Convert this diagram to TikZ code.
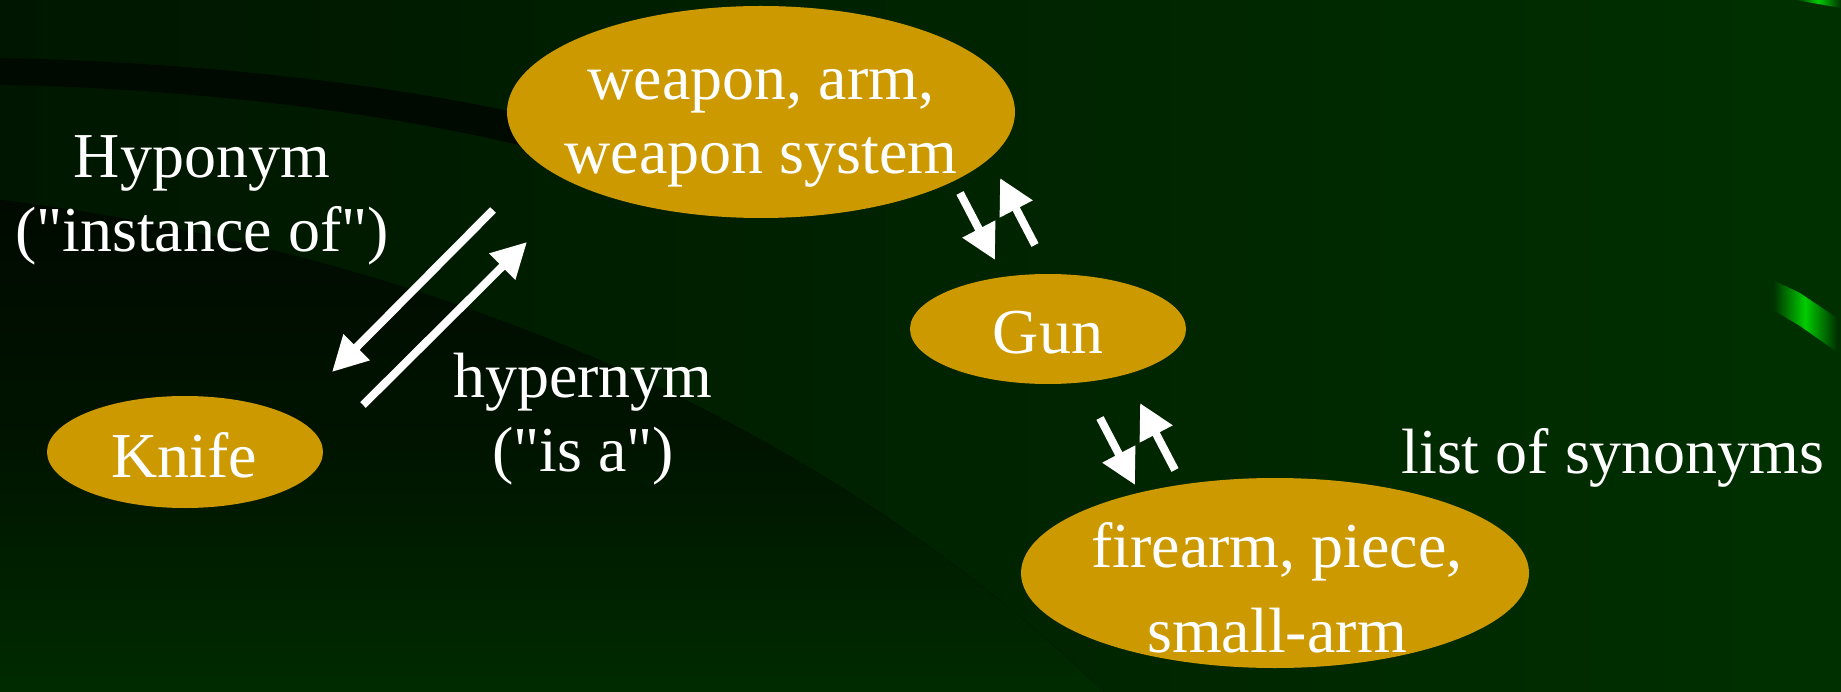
\documentclass[tikz,border=0pt]{standalone}
\usepackage{fontspec}
\setmainfont{Liberation Serif}
\usetikzlibrary{arrows.meta,shapes.geometric}
\definecolor{gold}{HTML}{CC9900}
\definecolor{bgL}{HTML}{001600}
\definecolor{bgR}{HTML}{003000}
\definecolor{bgDark}{HTML}{000A00}
\definecolor{stripe}{HTML}{00CC00}
\newcommand{\slidefont}{\fontsize{64}{74}\selectfont}
\newcommand{\qq}{\textquotedbl}
\begin{document}
\begin{tikzpicture}[x=1pt,y=-1pt,
  concept/.style={ellipse, fill=gold, draw=none, inner sep=0pt},
  lbl/.style={text=white, align=center, font=\slidefont, inner sep=0pt},
  rel/.style={draw=white, line width=8pt, -{Triangle[length=35pt,width=35pt]}}]
\useasboundingbox (0,0) rectangle (1841,692);
% background
\fill[left color=bgL, right color=bgR] (0,0) rectangle (1841,692);
\fill[top color=bgDark, bottom color=bgR!90!black, middle color=bgL!85!bgDark]
  (0,200) .. controls (400,250) and (800,400) .. (1104,692) -- (0,692) -- cycle;
\fill[bgDark] (0,58) .. controls (200,62) and (400,85) .. (540,118)
  -- (540,150) .. controls (400,115) and (200,88) .. (0,85) -- cycle;
% green stripes at right edge
\shade[left color=bgR, right color=bgR, middle color=stripe]
  (1773,280) -- (1800,293) -- (1837,318) -- (1837,352) -- (1800,326) -- (1773,310) -- cycle;
\shade[left color=bgR, right color=bgR, middle color=stripe]
  (1795,0) -- (1841,0) -- (1841,8) -- (1830,6) -- cycle;
% concepts
\node[concept, minimum width=508pt, minimum height=212pt] (weapon) at (761,112) {};
\node[concept, minimum width=276pt, minimum height=110pt] (gun) at (1048,329) {};
\node[concept, minimum width=276pt, minimum height=112pt] (knife) at (185,452) {};
\node[concept, minimum width=508pt, minimum height=190pt] (firearm) at (1275,573) {};
\node[lbl] (weapontxt) at (761,128) {weapon, arm,\\weapon system};
\node[lbl] (guntxt) at (1048,333) {Gun};
\node[lbl] (knifetxt) at (184,455) {Knife};
\node[lbl] (firearmtxt) at (1277,588) {firearm, piece,\\[11pt]small-arm};
% labels
\node[lbl] (hypo) at (202,200) {Hyponym\\(\qq instance of\qq)};
\node[lbl] (hyper) at (583,419) {hypernym\\(\qq is a\qq)};
\node[lbl] (syn) at (1613,458) {list of synonyms};
% arrow ends
\coordinate (a1s) at (493,210); \coordinate (a1e) at (332,372);
\coordinate (a2s) at (363,405); \coordinate (a2e) at (527,242);
\coordinate (b1s) at (960,193); \coordinate (b1e) at (995,260);
\coordinate (b2s) at (1035,245); \coordinate (b2e) at (1000,178);
\coordinate (c1s) at (1100,418); \coordinate (c1e) at (1135,485);
\coordinate (c2s) at (1175,470); \coordinate (c2e) at (1140,403);
\draw[rel] (a1s) -- (a1e);
\draw[rel] (a2s) -- (a2e);
\draw[rel] (b1s) -- (b1e);
\draw[rel] (b2s) -- (b2e);
\draw[rel] (c1s) -- (c1e);
\draw[rel] (c2s) -- (c2e);
\end{tikzpicture}
\end{document}
